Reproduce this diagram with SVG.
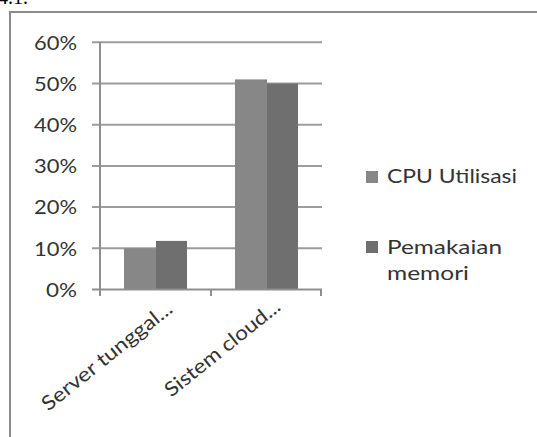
<svg xmlns="http://www.w3.org/2000/svg" width="537" height="437" viewBox="0 0 537 437">
  <style>
    .frame { fill: none; stroke: #8c8c8c; stroke-width: 2; }
    .grid { stroke: #9c9c9c; stroke-width: 2; fill: none; }
    .axis { stroke: #8e8e8e; stroke-width: 2; fill: none; }
    .lbl { font-family: Lato, "Liberation Sans", Arial, sans-serif; font-size: 20px; fill: #333333; }
    .cpu { fill: #878787; }
    .mem { fill: #6f6f6f; }
  </style>

  <rect x="0" y="0" width="537" height="437" fill="#ffffff"/>

  <!-- caption fragment at the top edge -->
  <text x="-2" y="4" font-family="'Liberation Serif', 'Times New Roman', serif" font-size="20" fill="#000000">4.1.</text>

  <!-- chart frame -->
  <path class="frame" d="M10 437 V12 H537"/>

  <!-- gridlines with y-axis ticks -->
  <g id="gridlines">
    <line class="grid" x1="92" y1="42.3" x2="322" y2="42.3"/>
    <line class="grid" x1="92" y1="83.5" x2="322" y2="83.5"/>
    <line class="grid" x1="92" y1="124.7" x2="322" y2="124.7"/>
    <line class="grid" x1="92" y1="165.9" x2="322" y2="165.9"/>
    <line class="grid" x1="92" y1="207.1" x2="322" y2="207.1"/>
    <line class="grid" x1="92" y1="248.3" x2="322" y2="248.3"/>
  </g>

  <!-- y-axis labels -->
  <g id="y-labels" class="lbl" text-anchor="end">
    <text x="77" y="49.5" textLength="43" lengthAdjust="spacingAndGlyphs">60%</text>
    <text x="77" y="90.7" textLength="43" lengthAdjust="spacingAndGlyphs">50%</text>
    <text x="77" y="131.9" textLength="43" lengthAdjust="spacingAndGlyphs">40%</text>
    <text x="77" y="173.1" textLength="43" lengthAdjust="spacingAndGlyphs">30%</text>
    <text x="77" y="214.3" textLength="43" lengthAdjust="spacingAndGlyphs">20%</text>
    <text x="77" y="255.5" textLength="43" lengthAdjust="spacingAndGlyphs">10%</text>
    <text x="77" y="296.7" textLength="31" lengthAdjust="spacingAndGlyphs">0%</text>
  </g>

  <!-- bars -->
  <g id="series-cpu">
    <rect class="cpu" x="124" y="248.3" width="32" height="41.2"/>
    <rect class="cpu" x="235" y="79.4" width="32" height="210.1"/>
  </g>
  <g id="series-mem">
    <rect class="mem" x="156" y="240.9" width="31" height="48.6"/>
    <rect class="mem" x="267" y="83.5" width="31" height="206"/>
  </g>

  <!-- axes -->
  <g id="axes">
    <line class="axis" x1="100" y1="42" x2="100" y2="296"/>
    <line class="axis" x1="92" y1="289.5" x2="322" y2="289.5"/>
    <line class="axis" x1="211" y1="289.5" x2="211" y2="296"/>
    <line class="axis" x1="321" y1="289.5" x2="321" y2="296"/>
  </g>

  <!-- category labels -->
  <g id="x-labels" class="lbl" text-anchor="end">
    <text transform="translate(174 311) rotate(-38.7)" textLength="161" lengthAdjust="spacingAndGlyphs">Server tunggal...</text>
    <text transform="translate(282 309) rotate(-38.7)" textLength="142" lengthAdjust="spacingAndGlyphs">Sistem cloud...</text>
  </g>

  <!-- legend -->
  <g id="legend-cpu">
    <rect class="cpu" x="366" y="171" width="12" height="12"/>
    <text class="lbl" x="387" y="183" textLength="130" lengthAdjust="spacingAndGlyphs">CPU Utilisasi</text>
  </g>
  <g id="legend-mem">
    <rect class="mem" x="366" y="241" width="12" height="12"/>
    <text class="lbl" x="387" y="254" textLength="115" lengthAdjust="spacingAndGlyphs">Pemakaian</text>
    <text class="lbl" x="387" y="280" textLength="82" lengthAdjust="spacingAndGlyphs">memori</text>
  </g>
</svg>
